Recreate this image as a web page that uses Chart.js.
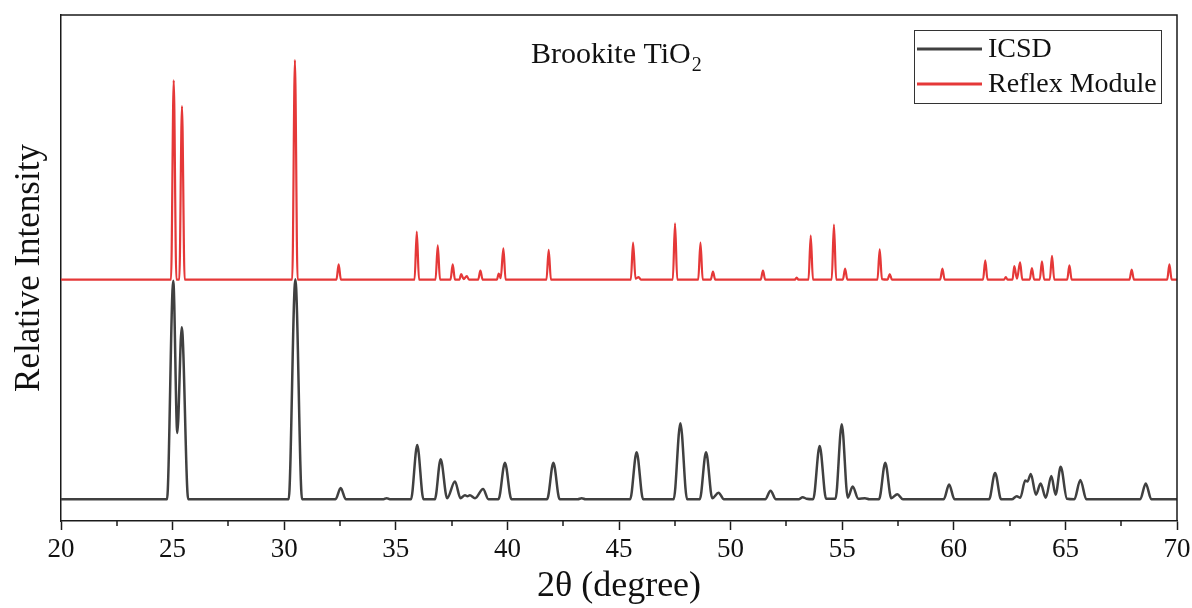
<!DOCTYPE html>
<html>
<head>
<meta charset="utf-8">
<title>Brookite TiO2 XRD</title>
<script src="https://cdn.jsdelivr.net/npm/chart.js@4"></script>
<style>
  html, body { margin: 0; padding: 0; background: #fff; }
  #xrd { display: block; }
</style>
</head>
<body>
<canvas id="xrd" width="1192" height="608"></canvas>
<script>
// ICSD reference pattern: 2theta (deg) and intensity (a.u., offset baseline)
var icsdTheta = [
  20.00, 24.75, 25.03, 25.21, 25.41, 25.70, 30.20, 30.50, 30.80, 32.30, 32.53, 32.76,
  34.45, 34.59, 34.73, 35.68, 35.96, 36.24, 36.75, 37.01, 37.30, 37.65, 37.90, 38.10,
  38.21, 38.32, 38.55, 38.91, 39.15, 39.60, 39.89, 40.18, 41.78, 42.06, 42.34, 43.15,
  43.33, 43.50, 45.50, 45.79, 46.08, 47.45, 47.75, 48.05, 48.62, 48.90, 49.18, 49.46,
  49.70, 51.55, 51.79, 52.03, 53.05, 53.23, 53.40, 53.70, 53.99, 54.28, 54.70, 54.98,
  55.25, 55.47, 55.72, 56.02, 56.22, 56.65, 56.93, 57.20, 57.47, 57.72, 59.55, 59.79,
  60.03, 61.58, 61.85, 62.12, 62.60, 62.82, 62.98, 63.20, 63.30, 63.45, 63.68, 63.89,
  64.12, 64.37, 64.56, 64.79, 65.07, 65.40, 65.67, 65.94, 68.35, 68.60, 68.85, 70.00
];
var icsdIntensity = [
  43, 43, 475, 174, 383, 43, 43, 478, 43, 43, 65, 43,
  43, 45, 43, 43, 150, 43, 43, 122, 45, 78, 45, 51,
  49, 51, 45, 63, 43, 43, 115, 43, 43, 115, 43, 43,
  45, 43, 43, 136, 43, 43, 193, 43, 43, 136, 45, 56,
  43, 43, 60, 43, 43, 47, 44, 43, 148, 44, 44, 191,
  46, 68, 44, 45, 43, 43, 115, 45, 53, 43, 43, 72,
  43, 43, 95, 43, 43, 49, 46, 80, 78, 93, 52, 74,
  46, 89, 52, 107, 44, 43, 81, 43, 43, 74, 43, 43
];

// Reflex Module simulated pattern
var reflexTheta = [
  20.00, 24.93, 25.05, 25.17, 25.30, 25.42, 25.54, 30.36, 30.48, 30.60, 32.34, 32.44,
  32.54, 35.84, 35.94, 36.04, 36.78, 36.88, 36.98, 37.45, 37.55, 37.65, 37.85, 37.93,
  38.04, 38.18, 38.28, 38.69, 38.79, 38.89, 39.53, 39.61, 39.70, 39.82, 39.92, 41.75,
  41.85, 41.95, 45.53, 45.63, 45.74, 45.88, 45.98, 47.41, 47.51, 47.61, 48.55, 48.65,
  48.75, 49.11, 49.21, 49.31, 51.35, 51.45, 51.55, 52.88, 52.96, 53.04, 53.49, 53.59,
  53.69, 54.53, 54.63, 54.73, 55.03, 55.13, 55.23, 56.58, 56.68, 56.78, 57.03, 57.13,
  57.23, 59.39, 59.49, 59.59, 61.31, 61.41, 61.51, 62.25, 62.33, 62.41, 62.63, 62.71,
  62.83, 62.97, 63.07, 63.40, 63.50, 63.60, 63.85, 63.95, 64.05, 64.30, 64.40, 64.50,
  65.08, 65.18, 65.28, 67.87, 67.97, 68.07, 69.56, 69.66, 69.76, 70.00
];
var reflexIntensity = [
  477, 477, 871, 477, 477, 820, 477, 477, 911, 477, 477, 507,
  477, 477, 572, 477, 477, 545, 477, 477, 507, 477, 477, 488,
  478, 484, 477, 477, 495, 477, 477, 489, 480, 539, 477, 477,
  536, 477, 477, 550, 479, 482, 477, 477, 588, 477, 477, 550,
  477, 477, 493, 477, 477, 495, 477, 477, 481, 477, 477, 564,
  477, 477, 586, 477, 477, 499, 477, 477, 537, 478, 477, 488,
  477, 477, 499, 477, 477, 515, 477, 477, 482, 477, 477, 504,
  479, 511, 477, 477, 500, 477, 477, 513, 477, 477, 524, 477,
  477, 505, 477, 477, 497, 477, 477, 507, 477, 477
];

var xTicks = [20, 25, 30, 35, 40, 45, 50, 55, 60, 65, 70];

function toPoints(xs, ys) {
  return xs.map(function (x, i) { return { x: x, y: ys[i] }; });
}

var serif = '"Liberation Serif", "Times New Roman", serif';

// box frame, minor ticks, title and legend
var decorations = {
  id: 'decorations',
  afterDraw: function (chart) {
    var c = chart.ctx, a = chart.chartArea, xs = chart.scales.x;
    c.save();
    c.strokeStyle = '#1a1a1a';
    c.lineWidth = 1.5;
    c.beginPath();
    c.moveTo(a.left, a.top); c.lineTo(a.right, a.top); c.lineTo(a.right, a.bottom);
    c.stroke();

    // minor ticks halfway between labelled ones
    for (var i = 0; i < xTicks.length - 1; i++) {
      var px = Math.round(xs.getPixelForValue((xTicks[i] + xTicks[i + 1]) / 2));
      c.beginPath();
      c.moveTo(px, a.bottom); c.lineTo(px, a.bottom + 5);
      c.stroke();
    }

    // title with subscript
    c.fillStyle = '#111';
    c.textBaseline = 'alphabetic';
    c.textAlign = 'left';
    c.font = '30px ' + serif;
    var main = 'Brookite TiO';
    c.fillText(main, 531, 63);
    var w = c.measureText(main).width;
    c.font = '20px ' + serif;
    c.fillText('2', 531 + w + 1, 71);

    // legend
    c.lineWidth = 1;
    c.strokeStyle = '#333';
    c.strokeRect(914.5, 30.5, 247, 73);
    var rows = [49, 84];
    chart.data.datasets.forEach(function (ds, k) {
      c.strokeStyle = ds.borderColor;
      c.lineWidth = 3;
      c.beginPath();
      c.moveTo(917, rows[k]); c.lineTo(982, rows[k]);
      c.stroke();
      c.fillStyle = '#111';
      c.font = '28px ' + serif;
      c.textBaseline = 'middle';
      c.fillText(ds.label, 988, rows[k] + 1);
    });
    c.restore();
  }
};

new Chart(document.getElementById('xrd'), {
  type: 'line',
  data: {
    datasets: [
      {
        label: 'ICSD',
        data: toPoints(icsdTheta, icsdIntensity),
        borderColor: '#404040',
        borderWidth: 2.5,
        pointRadius: 0,
        cubicInterpolationMode: 'monotone'
      },
      {
        label: 'Reflex Module',
        data: toPoints(reflexTheta, reflexIntensity),
        borderColor: '#e53838',
        borderWidth: 2.2,
        pointRadius: 0,
        cubicInterpolationMode: 'monotone'
      }
    ]
  },
  options: {
    responsive: false,
    animation: false,
    devicePixelRatio: 1,
    layout: { padding: { top: 15, right: 15, left: 0, bottom: 0 } },
    plugins: {
      legend: { display: false },
      tooltip: { enabled: false }
    },
    scales: {
      x: {
        type: 'linear',
        min: 20,
        max: 70,
        afterBuildTicks: function (s) {
          s.ticks = xTicks.map(function (v) { return { value: v }; });
        },
        afterFit: function (s) {
          s.height = 87;
          s.paddingLeft = 0;
          s.paddingRight = 0;
        },
        ticks: {
          padding: 4,
          color: '#111',
          maxRotation: 0,
          autoSkip: false,
          font: { family: serif, size: 27 }
        },
        grid: {
          drawOnChartArea: false,
          tickLength: 9,
          tickWidth: 1.5,
          tickColor: '#1a1a1a'
        },
        border: { color: '#1a1a1a', width: 1.5 },
        title: {
          display: true,
          text: '2θ (degree)',
          color: '#111',
          padding: { top: 0, bottom: 0 },
          font: { family: serif, size: 36 }
        }
      },
      y: {
        min: 0,
        max: 1000,
        afterFit: function (s) {
          s.width = 61;
          s.paddingTop = 0;
          s.paddingBottom = 0;
        },
        ticks: { display: false },
        grid: { display: false },
        border: { display: true, color: '#1a1a1a', width: 1.5 },
        title: {
          display: true,
          text: 'Relative Intensity',
          color: '#111',
          padding: { top: 9, bottom: 0 },
          font: { family: serif, size: 35 }
        }
      }
    }
  },
  plugins: [decorations]
});
</script>
</body>
</html>
